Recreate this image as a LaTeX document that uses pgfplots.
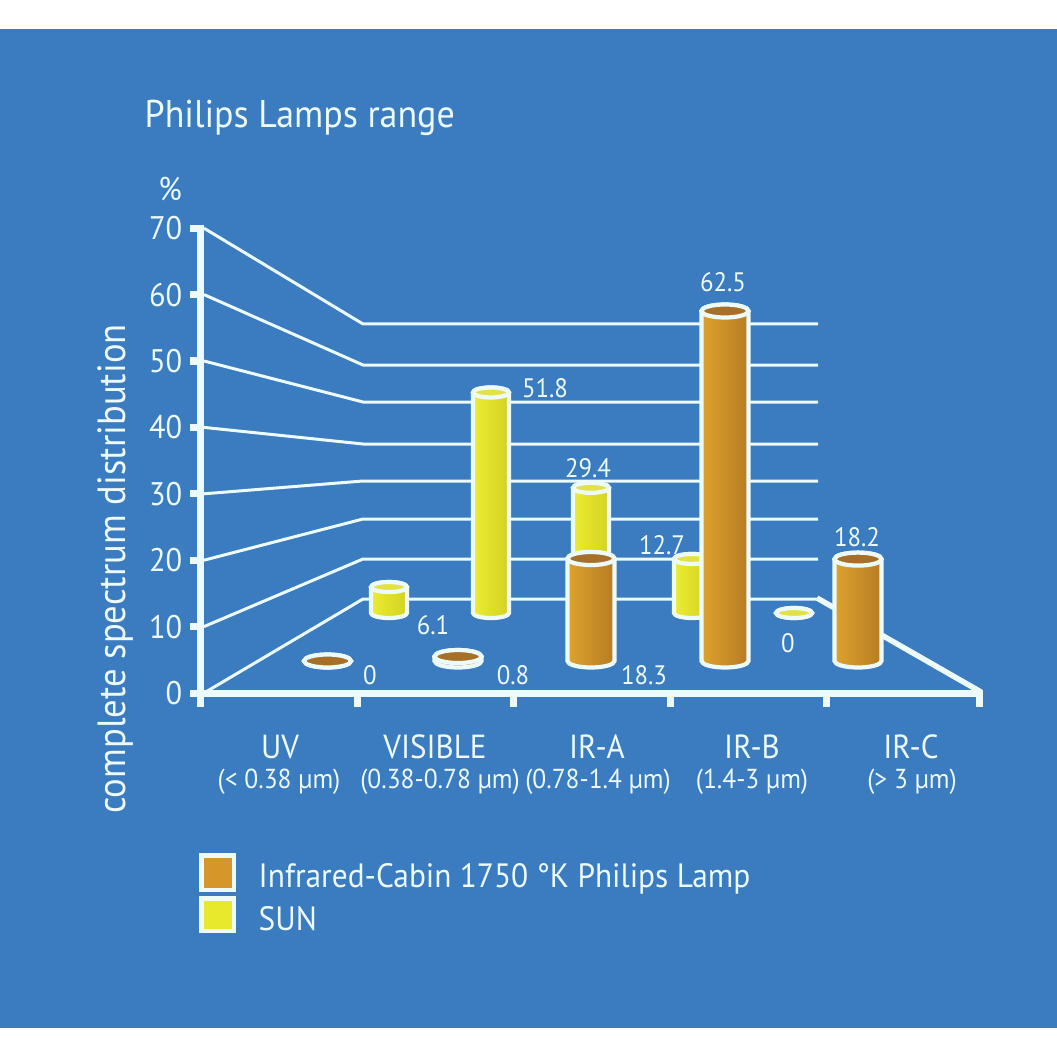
\documentclass[border=0pt]{standalone}
\usepackage{fontspec}
\setmainfont{PT Sans}[FakeStretch=0.93]
\usepackage{pgfplots}
\pgfplotsset{compat=1.18}
\usepackage{pgfplotstable}
\definecolor{bg}{RGB}{58,124,191}
\definecolor{ln}{RGB}{236,250,250}
\definecolor{orL}{RGB}{222,162,46}
\definecolor{orR}{RGB}{182,124,34}
\definecolor{orTop}{RGB}{166,112,40}
\definecolor{yeL}{RGB}{236,236,50}
\definecolor{yeR}{RGB}{210,210,34}
\definecolor{yeTop}{RGB}{226,226,70}
\definecolor{orLeg}{RGB}{214,150,42}
\definecolor{yeLeg}{RGB}{232,232,44}
\pgfdeclareplotmark{nothing}{}

% sun (back row): x position (px), value (%)
\pgfplotstableread{
cat x v
UV 389 6.1
VIS 491 51.8
IRA 591 29.4
IRB 692 12.7
IRC 794 0
}\suntab
% Infrared-Cabin 1750 K Philips lamp (front row)
\pgfplotstableread{
cat x v
UV 327.5 0
VIS 458 0.8
IRA 591 18.3
IRB 725 62.5
IRC 858 18.2
}\lamptab

\tikzset{rim/.style={draw=ln, line width=1.2pt}}
\newcommand\cyl[6]{%
  \draw[rim, left color=#4, right color=#5] (-#1,#3) -- (-#1,0cm)
     arc[start angle=180,end angle=360,x radius=#1,y radius=#2] -- (#1,#3)
     arc[start angle=0,end angle=180,x radius=#1,y radius=#2] -- cycle;
  \draw[rim, fill=#6] (0cm,#3) ellipse[x radius=#1, y radius=#2];
}
\newcommand\ftitle{\fontsize{11}{13}\selectfont}
\newcommand\ftick{\fontsize{9.3}{11}\selectfont}
\newcommand\fcat{\fontsize{9.5}{11}\selectfont}
\newcommand\fsub{\fontsize{7.8}{9}\selectfont}
\newcommand\fleg{\fontsize{9.6}{11}\selectfont}
\newcommand\fval{\fontsize{7.6}{9}\selectfont}
\newcommand\fylab{\fontsize{11.2}{13}\selectfont}

\begin{document}
\begin{tikzpicture}
\fill[white] (0,0) rectangle (10.57cm,10.57cm);
\fill[bg] (0,0.29cm) rectangle (10.57cm,10.28cm);
\begin{axis}[at={(0,0)}, anchor=south west, scale only axis,
  width=10.57cm, height=10.57cm, xmin=0, xmax=1057, ymin=0, ymax=1057,
  y dir=reverse, hide axis, clip=false,
  point meta min=0, point meta max=100]
% back wall and floor lines
\draw[ln, line width=0.03cm] (204,693) -- (363,599) -- (818,599);
\draw[ln, line width=0.03cm] (204,626.6) -- (363,559) -- (818,559);
\draw[ln, line width=0.03cm] (204,560.2) -- (363,519) -- (818,519);
\draw[ln, line width=0.03cm] (204,493.8) -- (363,481) -- (818,481);
\draw[ln, line width=0.03cm] (204,427.4) -- (363,444) -- (818,444);
\draw[ln, line width=0.03cm] (204,361) -- (363,402) -- (818,402);
\draw[ln, line width=0.03cm] (204,294.6) -- (363,365) -- (818,365);
\draw[ln, line width=0.03cm] (204,228.2) -- (363,324) -- (818,324);
\draw[ln, line width=0.055cm] (817,598) -- (981,692);
% front axes
\fill[ln] (197,225) rectangle (204,707);
\fill[ln] (197,690) rectangle (983,697);
\fill[ln] (190,689.5) rectangle (197,696.5);
\fill[ln] (190,623.1) rectangle (197,630.1);
\fill[ln] (190,556.7) rectangle (197,563.7);
\fill[ln] (190,490.3) rectangle (197,497.3);
\fill[ln] (190,423.9) rectangle (197,430.9);
\fill[ln] (190,357.5) rectangle (197,364.5);
\fill[ln] (190,291.1) rectangle (197,298.1);
\fill[ln] (190,224.7) rectangle (197,231.7);
\fill[ln] (353.5,697) rectangle (360.5,707);
\fill[ln] (509.5,697) rectangle (516.5,707);
\fill[ln] (666.5,697) rectangle (673.5,707);
\fill[ln] (822.5,697) rectangle (829.5,707);
\fill[ln] (976,697) rectangle (983,707);
% sun cylinders (back row)
\addplot[scatter, only marks, mark=nothing,
  point meta=explicit,
  scatter/@pre marker code/.code={\pgfmathsetmacro\h{\pgfplotspointmetatransformed*0.00425}\cyl{0.18cm}{0.05cm}{\h cm}{yeL}{yeR}{yeTop}},
  scatter/@post marker code/.code={}]
  table[x=x, y expr=613, meta=v] {\suntab};
% lamp cylinders (front row)
\addplot[scatter, only marks, mark=nothing,
  point meta=explicit,
  scatter/@pre marker code/.code={\pgfmathsetmacro\h{\pgfplotspointmetatransformed*0.0056}\cyl{0.235cm}{0.065cm}{\h cm}{orL}{orR}{orTop}},
  scatter/@post marker code/.code={}]
  table[x=x, y expr=661, meta=v] {\lamptab};
% value labels
\begin{scope}[every node/.style={text=ln, font=\fval, inner sep=0pt}]
\node at (433,625) {6.1};
\node at (545,388) {51.8};
\node at (588,468) {29.4};
\node at (662,545) {12.7};
\node at (788,643) {0};
\node at (370,675) {0};
\node at (513,675) {0.8};
\node at (644,675) {18.3};
\node at (723,282) {62.5};
\node at (857,537) {18.2};
\end{scope}
\begin{scope}[every node/.style={text=ln, inner sep=0pt}]
\node[anchor=base west, font=\ftitle] at (144,128) {Philips Lamps range};
\node[font=\ftick] at (170,189) {\%};
\node[anchor=east, font=\ftick] at (183,693) {0};
\node[anchor=east, font=\ftick] at (183,626.6) {10};
\node[anchor=east, font=\ftick] at (183,560.2) {20};
\node[anchor=east, font=\ftick] at (183,493.8) {30};
\node[anchor=east, font=\ftick] at (183,427.4) {40};
\node[anchor=east, font=\ftick] at (183,361) {50};
\node[anchor=east, font=\ftick] at (183,294.6) {60};
\node[anchor=east, font=\ftick] at (183,228.2) {70};
\node[rotate=90, font=\fylab] at (115,569) {complete spectrum distribution};
\node[anchor=base, font=\fcat] at (280,758) {UV};
\node[anchor=base, font=\fcat] at (435,758) {VISIBLE};
\node[anchor=base, font=\fcat] at (597,758) {IR-A};
\node[anchor=base, font=\fcat] at (752,758) {IR-B};
\node[anchor=base, font=\fcat] at (911,758) {IR-C};
\node[anchor=base, font=\fsub] at (279,788) {(< 0.38 µm)};
\node[anchor=base, font=\fsub] at (440,788) {(0.38-0.78 µm)};
\node[anchor=base, font=\fsub] at (598,788) {(0.78-1.4 µm)};
\node[anchor=base, font=\fsub] at (752,788) {(1.4-3 µm)};
\node[anchor=base, font=\fsub] at (912,788) {(> 3 µm)};
\node[anchor=base west, font=\fleg] at (258,887) {Infrared-Cabin 1750 °K Philips Lamp};
\node[anchor=base west, font=\fleg] at (258,930) {SUN};
\end{scope}
% legend keys
\fill[ln] (199,853) rectangle (236,892);
\fill[orLeg] (203.5,857.5) rectangle (231.5,887.5);
\fill[ln] (199,896) rectangle (236,933);
\fill[yeLeg] (203.5,900.5) rectangle (231.5,928.5);
\end{axis}
\end{tikzpicture}
\end{document}
